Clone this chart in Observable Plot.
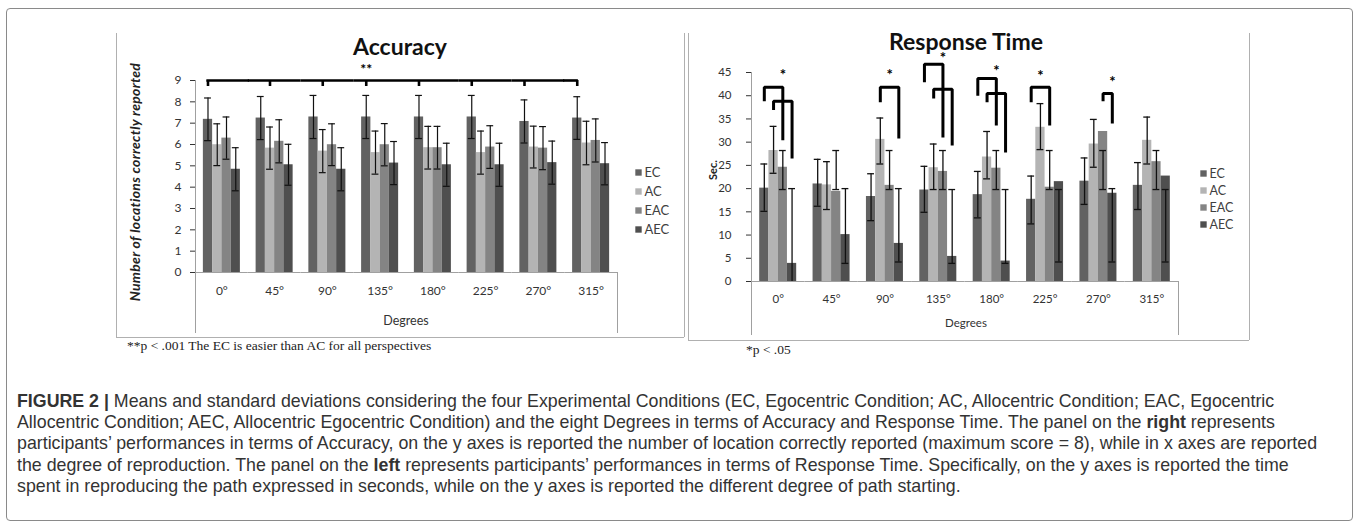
<!DOCTYPE html>
<html><head><meta charset="utf-8">
<script src="https://cdn.jsdelivr.net/npm/d3@7"></script>
<script src="https://cdn.jsdelivr.net/npm/@observablehq/plot@0.6"></script>
<style>
body{margin:0;background:#fff;}
#fig{position:relative;width:1358px;height:527px;overflow:hidden;font-family:Lato,"DejaVu Sans",sans-serif;}
.abs{position:absolute;}
.hl{position:absolute;height:0;border-top:1px solid #b0b0b0;}
.vl{position:absolute;width:0;border-left:1px solid #b0b0b0;}
.title{position:absolute;font-weight:bold;font-size:23px;color:#111;white-space:nowrap;transform:translate(-50%,-50%);line-height:1;}
.axt{position:absolute;color:#333;white-space:nowrap;transform:translate(-50%,-50%);line-height:1;}
.note{position:absolute;font-family:"Liberation Serif","DejaVu Serif",serif;font-size:13.5px;color:#222;white-space:nowrap;}
.cap{position:absolute;left:17px;font-family:"Liberation Sans",Arial,sans-serif;font-size:17.8px;line-height:20px;color:#333;white-space:nowrap;transform:translateY(-50%);}
</style></head><body><div id="fig"></div>
<script>
// ---------- data ----------
const degrees = ["0°","45°","90°","135°","180°","225°","270°","315°"];
const conditions = ["EC","AC","EAC","AEC"];
const conditionColors = ["#626262","#b4b4b4","#848484","#4f4f4f"];

// Accuracy: means and standard deviations per condition (one value per degree)
const accEC  = [7.18, 7.24, 7.29, 7.29, 7.29, 7.29, 7.08, 7.24];
const accAC  = [5.99, 5.83, 5.69, 5.62, 5.85, 5.62, 5.88, 6.07];
const accEAC = [6.30, 6.15, 5.99, 5.99, 5.85, 5.88, 5.83, 6.19];
const accAEC = [4.84, 5.05, 4.84, 5.13, 5.05, 5.05, 5.15, 5.10];
const accSdEC  = [1.00, 1.01, 1.01, 1.01, 1.01, 1.01, 1.01, 1.00];
const accSdAC  = [0.98, 0.99, 1.01, 1.01, 1.00, 1.01, 0.98, 1.02];
const accSdEAC = [0.99, 1.01, 0.98, 0.99, 1.00, 1.00, 1.01, 1.01];
const accSdAEC = [1.01, 0.96, 1.01, 1.01, 1.01, 1.01, 1.01, 0.99];
const accTicks = [0,1,2,3,4,5,6,7,8,9];
const accBracketTicks = ["EC","AC","AC","EC","EC","EC","EC","EC"];
const accBracketLevel = 9;
const accBracketDrop = 8.72;
const accStars = [{deg:"135°", cond:"EC", y:9.6, label:"**"}];

// Response time: means and the drawn error-bar ends (low, high)
const rtEC     = [20.1, 21.0, 18.3, 19.7, 18.7, 17.7, 21.6, 20.7];
const rtEClo   = [15.1, 16.2, 13.1, 14.9, 13.7, 12.4, 16.6, 15.5];
const rtEChi   = [25.3, 26.3, 23.2, 24.8, 23.7, 22.7, 26.6, 25.6];
const rtAC     = [28.2, 20.8, 30.6, 24.5, 26.8, 33.2, 29.6, 30.4];
const rtAClo   = [23.3, 15.5, 25.3, 19.8, 22.1, 28.4, 24.6, 25.3];
const rtAChi   = [33.4, 25.8, 35.2, 29.6, 32.3, 38.3, 34.9, 35.4];
const rtEAC    = [24.6, 19.4, 20.7, 23.7, 24.4, 20.3, 32.3, 25.8];
const rtEAClo  = [19.8, 19.8, 19.8, 19.8, 19.8, 19.8, 19.8, 19.8];
const rtEAChi  = [28.2, 28.2, 28.2, 28.2, 28.2, 28.2, 28.2, 28.2];
const rtAEC    = [3.9, 10.1, 8.2, 5.4, 4.4, 21.5, 19.0, 22.7];
const rtAEClo  = [0, 3.9, 4.2, 3.9, 3.9, 4.2, 4.2, 4.2];
const rtAEChi  = [20.0, 20.0, 20.0, 19.8, 19.8, 19.8, 20.0, 19.8];
const rtTicks = [0,5,10,15,20,25,30,35,40,45];
// significance brackets: degree, from, to, top level, left-leg end, right-leg end
const rtBrDeg   = ["0°","0°","90°","135°","135°","180°","180°","225°","270°"];
const rtBrFrom  = ["EC","AC","AC","EC","AC","EC","AC","EC","EAC"];
const rtBrTo    = ["EAC","AEC","AEC","EAC","AEC","EAC","AEC","EAC","AEC"];
const rtBrTop   = [41.8, 38.8, 41.8, 46.8, 41.4, 43.7, 40.5, 41.8, 40.5];
const rtBrLeft  = [38.8, 36.9, 38.6, 42.9, 39.4, 40.0, 38.6, 38.6, 38.8];
const rtBrRight = [30.4, 26.5, 30.8, 31.0, 29.3, 33.6, 27.8, 33.6, 34.0];
const rtStarDeg  = ["0°","90°","135°","180°","225°","270°"];
const rtStarCond = ["EAC","EAC","EAC","EAC","AC","AEC"];
const rtStarY    = [45.0, 45.0, 48.7, 45.9, 44.8, 43.5];

// ---------- tables ----------
const accSeries = {EC:[accEC,accSdEC], AC:[accAC,accSdAC], EAC:[accEAC,accSdEAC], AEC:[accAEC,accSdAEC]};
const acc = degrees.flatMap((deg,i) => conditions.map(cond => {
  const [m, s] = accSeries[cond];
  return {deg, cond, value:m[i], lo:m[i]-s[i], hi:m[i]+s[i]};
}));
const rtSeries = {EC:[rtEC,rtEClo,rtEChi], AC:[rtAC,rtAClo,rtAChi], EAC:[rtEAC,rtEAClo,rtEAChi], AEC:[rtAEC,rtAEClo,rtAEChi]};
const rt = degrees.flatMap((deg,i) => conditions.map(cond => {
  const [m, lo, hi] = rtSeries[cond];
  return {deg, cond, value:m[i], lo:lo[i], hi:hi[i]};
}));
const rtBrackets = rtBrDeg.flatMap((deg,i) => [
  {id:i, deg, cond:rtBrFrom[i], y:rtBrLeft[i]},
  {id:i, deg, cond:rtBrFrom[i], y:rtBrTop[i]},
  {id:i, deg, cond:rtBrTo[i], y:rtBrTop[i]},
  {id:i, deg, cond:rtBrTo[i], y:rtBrRight[i]}
]);
const rtStars = rtStarDeg.map((deg,i) => ({deg, cond:rtStarCond[i], y:rtStarY[i], label:"*"}));
const accTickData = degrees.map((deg,i) => ({deg, cond:accBracketTicks[i]}));

const fig = document.getElementById("fig");
function add(cls, css, text, html) {
  const d = document.createElement("div");
  d.className = cls; Object.assign(d.style, css);
  if (html) d.innerHTML = html; else if (text) d.textContent = text;
  fig.appendChild(d); return d;
}
function place(node, left, top) {
  node.style.position = "absolute"; node.style.left = left + "px"; node.style.top = top + "px";
  fig.appendChild(node); return node;
}
function greyTicks(svg) {
  d3.select(svg).selectAll('g[aria-label="y-axis tick"]').attr("stroke", "#9a9a9a");
}

// frames
add("abs", {left:"6px", top:"8px", width:"1345px", height:"511px", border:"1px solid #8a8a8a", borderRadius:"4px"});
add("vl", {left:"116px", top:"33px", height:"304px"});
add("hl", {left:"116px", top:"337px", width:"568px"});
add("vl", {left:"684px", top:"33px", height:"304px"});
add("vl", {left:"688px", top:"33px", height:"307px"});
add("hl", {left:"688px", top:"340px", width:"561px"});
add("vl", {left:"1249px", top:"33px", height:"307px"});
// plot-area lines
add("vl", {left:"195px", top:"80px", height:"253px", borderColor:"#a0a0a0"});
add("vl", {left:"617px", top:"272px", height:"61px", borderColor:"#a0a0a0"});
add("vl", {left:"751px", top:"72px", height:"263px", borderColor:"#a0a0a0"});
add("vl", {left:"1178px", top:"281px", height:"54px", borderColor:"#a0a0a0"});

// ---------- Accuracy ----------
const accPlot = Plot.plot({
  width: 680, height: 345,
  marginLeft: 195, marginRight: 63, marginTop: 80, marginBottom: 73,
  style: {fontFamily: "Lato, sans-serif", fontSize: "12px", color: "#333", background: "transparent", overflow: "visible"},
  fx: {domain: degrees, padding: 0, round: false, axis: "bottom", label: null, tickSize: 0, tickPadding: 14},
  x: {domain: conditions, paddingInner: 0, paddingOuter: 0.85, round: false, axis: null},
  y: {domain: [0, 9], ticks: accTicks, tickSize: 5, tickPadding: 9, label: null},
  color: {domain: conditions, range: conditionColors},
  marks: [
    Plot.barY(acc, {fx: "deg", x: "cond", y: "value", fill: "cond"}),
    Plot.ruleY([0], {stroke: "#a0a0a0"}),
    Plot.ruleX(acc, {fx: "deg", x: "cond", y1: "lo", y2: "hi", stroke: "#111", strokeWidth: 1.2}),
    Plot.tickY(acc, {fx: "deg", x: "cond", y: "hi", stroke: "#111", strokeWidth: 1.2, inset: 1.2}),
    Plot.tickY(acc, {fx: "deg", x: "cond", y: "lo", stroke: "#111", strokeWidth: 1.2, inset: 1.2}),
    // significance bracket over all degrees
    Plot.ruleX(accTickData, {fx: "deg", x: "cond", y1: accBracketDrop, y2: accBracketLevel, stroke: "#000", strokeWidth: 2.6}),
    Plot.ruleY([{deg: degrees[0], from: accBracketTicks[0], to: conditions[3]}], {fx: "deg", y: accBracketLevel, x1: "from", x2: "to", stroke: "#000", strokeWidth: 2.6, insetLeft: 3.5, insetRight: -9}),
    Plot.ruleY(degrees.slice(1, 7).map(deg => ({deg})), {fx: "deg", y: accBracketLevel, stroke: "#000", strokeWidth: 2.6}),
    Plot.ruleY([{deg: degrees[7], from: accBracketTicks[7], to: accBracketTicks[7]}], {fx: "deg", y: accBracketLevel, x1: "from", x2: "to", stroke: "#000", strokeWidth: 2.6, insetLeft: -9, insetRight: 3.5}),
    Plot.text(accStars, {fx: "deg", x: "cond", y: "y", text: "label", fontSize: 14, fontWeight: "bold", fill: "#000", dy: 2})
  ]
});
greyTicks(accPlot);
place(accPlot, 0, 0);

// ---------- Response time ----------
const rtPlot = Plot.plot({
  width: 580, height: 345,
  marginLeft: 71, marginRight: 82, marginTop: 72, marginBottom: 64,
  style: {fontFamily: "Lato, sans-serif", fontSize: "11.5px", color: "#333", background: "transparent", overflow: "visible"},
  fx: {domain: degrees, padding: 0, round: false, axis: "bottom", label: null, tickSize: 0, tickPadding: 13},
  x: {domain: conditions, paddingInner: 0, paddingOuter: 0.885, round: false, axis: null},
  y: {domain: [0, 45], ticks: rtTicks, tickSize: 5, tickPadding: 15, label: null},
  color: {domain: conditions, range: conditionColors},
  marks: [
    Plot.barY(rt, {fx: "deg", x: "cond", y: "value", fill: "cond"}),
    Plot.ruleY([0], {stroke: "#a0a0a0"}),
    Plot.ruleX(rt, {fx: "deg", x: "cond", y1: "lo", y2: "hi", stroke: "#111", strokeWidth: 1.3}),
    Plot.tickY(rt, {fx: "deg", x: "cond", y: "hi", stroke: "#111", strokeWidth: 1.3, inset: 1.2}),
    Plot.tickY(rt.filter(d => d.lo > 0), {fx: "deg", x: "cond", y: "lo", stroke: "#111", strokeWidth: 1.3, inset: 1.2}),
    Plot.line(rtBrackets, {fx: "deg", x: "cond", y: "y", z: "id", stroke: "#000", strokeWidth: 3, strokeLinejoin: "miter", strokeLinecap: "butt"}),
    Plot.text(rtStars, {fx: "deg", x: "cond", y: "y", text: "label", fontSize: 15, fontWeight: "bold", fill: "#000", dy: 3})
  ]
});
greyTicks(rtPlot);
place(rtPlot, 680, 0);

// ---------- legends ----------
function legend(step, fontSize) {
  return Plot.plot({
    width: 60, height: step * 4, margin: 0,
    style: {fontFamily: "Lato, sans-serif", fontSize: fontSize + "px", color: "#404040", background: "transparent", overflow: "visible"},
    x: {domain: [0, 1], range: [4, 60], axis: null},
    y: {domain: conditions, range: [step / 2, step * 3.5], type: "point", axis: null},
    color: {domain: conditions, range: conditionColors},
    marks: [
      Plot.dot(conditions, {x: 0, y: d => d, fill: d => d, symbol: "square", r: 3.6}),
      Plot.text(conditions, {x: 0, y: d => d, text: d => d, dx: 6, textAnchor: "start", fill: "#404040"})
    ]
  });
}
place(legend(26.3, 13), 634, 161 - 13.15);
place(legend(23, 12.5), 1199, 163 - 11.5);

// ---------- titles and axis labels ----------
add("title", {left:"400px", top:"46px"}, "Accuracy");
add("title", {left:"966px", top:"41px"}, "Response Time");
add("axt", {left:"135px", top:"182px", transform:"translate(-50%,-50%) rotate(-90deg)", fontWeight:"bold", fontStyle:"italic", fontSize:"14px", letterSpacing:"0.3px", color:"#222"}, "Number of locations correctly reported");
add("axt", {left:"712px", top:"170px", transform:"translate(-50%,-50%) rotate(-90deg)", fontWeight:"bold", fontSize:"11px", color:"#222"}, "Sec.");
add("axt", {left:"406px", top:"321px", fontSize:"12.5px"}, "Degrees");
add("axt", {left:"966px", top:"323px", fontSize:"11.5px"}, "Degrees");
add("note", {left:"127px", top:"338px"}, "**p < .001   The EC is easier than AC for all perspectives");
add("note", {left:"746px", top:"342px"}, "*p < .05");

// ---------- caption ----------
const captionLines = [
  "<b>FIGURE 2 |</b> Means and standard deviations considering the four Experimental Conditions (EC, Egocentric Condition; AC, Allocentric Condition; EAC, Egocentric",
  "Allocentric Condition; AEC, Allocentric Egocentric Condition) and the eight Degrees in terms of Accuracy and Response Time. The panel on the <b>right</b> represents",
  "participants’ performances in terms of Accuracy, on the y axes is reported the number of location correctly reported (maximum score = 8), while in x axes are reported",
  "the degree of reproduction. The panel on the <b>left</b> represents participants’ performances in terms of Response Time. Specifically, on the y axes is reported the time",
  "spent in reproducing the path expressed in seconds, while on the y axes is reported the different degree of path starting."
];
const captionY = [401, 422, 443, 465, 486];
captionLines.forEach((t, i) => add("cap", {top: captionY[i] + "px"}, null, t));
</script></body></html>
